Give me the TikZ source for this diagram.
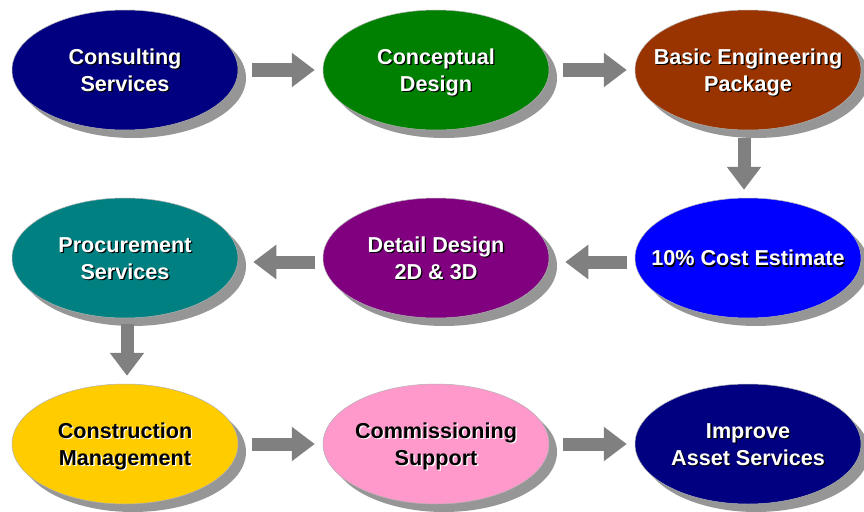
\documentclass[tikz,border=0pt]{standalone}
\usepackage{fontspec}
\setmainfont{Liberation Sans}
\usetikzlibrary{shapes.geometric,arrows.meta,shadows}
\definecolor{shgray}{RGB}{150,150,150}
\definecolor{arrgray}{RGB}{128,128,128}
\definecolor{cNavy}{RGB}{0,0,128}
\definecolor{cGreen}{RGB}{0,128,0}
\definecolor{cBrown}{RGB}{153,51,0}
\definecolor{cBlue}{RGB}{0,0,255}
\definecolor{cPurple}{RGB}{128,0,128}
\definecolor{cTeal}{RGB}{0,128,128}
\definecolor{cYellow}{RGB}{255,204,0}
\definecolor{cPink}{RGB}{255,153,204}
\newcommand\tsh[2]{\rlap{\kern1.3pt\raisebox{-1.3pt}{\textcolor{#1}{#2}}}#2}
\newcommand\wt[1]{\tsh{black}{#1}}
\newcommand\bt[1]{\tsh{white}{#1}}
\newcommand\lines[1]{\makebox[0pt]{\raisebox{-2.5pt}[\height][\depth]{\begin{tabular}{@{}c@{}}#1\end{tabular}}}}
\begin{document}
\begin{tikzpicture}[x=1pt,y=-1pt,
  oval/.style={ellipse, minimum width=226pt, minimum height=120pt, inner sep=0pt,
    draw=gray!60, line width=0.5pt,
    font=\fontsize{21.6}{26.5}\selectfont\bfseries,
    drop shadow={shadow xshift=8pt, shadow yshift=-8pt, fill=shgray, opacity=1, draw=none}},
  dark/.style={oval, text=white},
  light/.style={oval, text=black},
  flow/.style={draw=arrgray, line width=13pt, -{Triangle[length=23pt,width=33pt]}}]
\useasboundingbox (0,0) rectangle (864,511);
\fill[white] (0,0) rectangle (864,511);
% row 1
\node[dark, fill=cNavy] (cs) at (125,70) {\lines{\wt{Consulting}\\\wt{Services}}};
\node[dark, fill=cGreen] (cd) at (436,70) {\lines{\wt{Conceptual}\\\wt{Design}}};
\node[dark, fill=cBrown] (be) at (748,70) {\lines{\wt{Basic Engineering}\\\wt{Package}}};
% row 2
\node[dark, fill=cTeal] (ps) at (125,258) {\lines{\wt{Procurement}\\\wt{Services}}};
\node[dark, fill=cPurple] (dd) at (436,258) {\lines{\wt{Detail Design}\\\wt{2D \& 3D}}};
\node[dark, fill=cBlue] (ce) at (748,258) {\lines{\wt{10\% Cost Estimate}}};
% row 3
\node[light, fill=cYellow] (cm) at (125,444) {\lines{\bt{Construction}\\\bt{Management}}};
\node[light, fill=cPink] (cmm) at (436,444) {\lines{\bt{Commissioning}\\\bt{Support}}};
\node[dark, fill=cNavy] (ia) at (748,444) {\lines{\wt{Improve}\\\wt{Asset Services}}};
% connectors
\draw[flow] ([xshift=14pt]cs.east) -- ([xshift=-8pt]cd.west);
\draw[flow] ([xshift=14pt]cd.east) -- ([xshift=-8pt]be.west);
\draw[flow] ([xshift=-4pt,yshift=-8pt]be.south) -- ([xshift=-4pt,yshift=8pt]ce.north);
\draw[flow] ([xshift=-8pt,yshift=-4pt]ce.west) -- ([xshift=16pt,yshift=-4pt]dd.east);
\draw[flow] ([xshift=-8pt,yshift=-4pt]dd.west) -- ([xshift=15pt,yshift=-4pt]ps.east);
\draw[flow] ([xshift=2pt,yshift=-6pt]ps.south) -- ([xshift=2pt,yshift=8pt]cm.north);
\draw[flow] ([xshift=14pt]cm.east) -- ([xshift=-8pt]cmm.west);
\draw[flow] ([xshift=14pt]cmm.east) -- ([xshift=-8pt]ia.west);
\end{tikzpicture}
\end{document}
